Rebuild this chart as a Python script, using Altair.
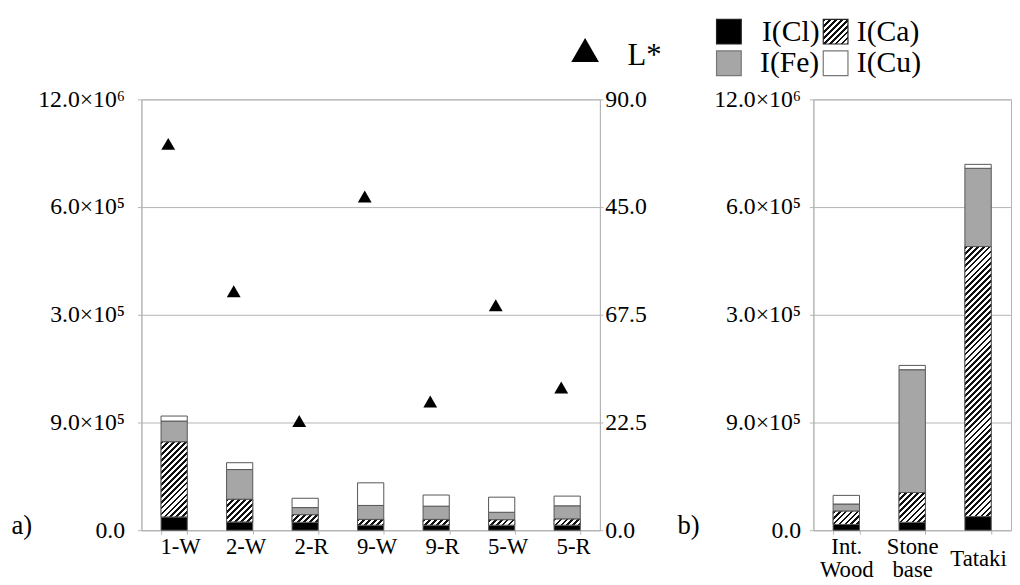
import altair as alt
import pandas as pd

# ---------------- data ----------------
elements = ["Cl", "Ca", "Fe", "Cu"]
legend_labels = ["I(Cl)", "I(Ca)", "I(Fe)", "I(Cu)"]

samples_a = ["1-W", "2-W", "2-R", "9-W", "9-R", "5-W", "5-R"]
cl_a = [0.37e6, 0.23e6, 0.22e6, 0.14e6, 0.14e6, 0.14e6, 0.14e6]
ca_a = [2.09e6, 0.63e6, 0.21e6, 0.16e6, 0.16e6, 0.15e6, 0.17e6]
fe_a = [0.58e6, 0.83e6, 0.20e6, 0.39e6, 0.37e6, 0.21e6, 0.37e6]
cu_a = [0.14e6, 0.19e6, 0.26e6, 0.63e6, 0.31e6, 0.42e6, 0.27e6]
lstar_a = [80.7, 49.9, 22.8, 69.7, 26.9, 47.0, 29.8]

samples_b = ["Int. Wood", "Stone base", "Tataki"]
cl_b = [0.16e6, 0.22e6, 0.38e6]
ca_b = [0.37e6, 0.83e6, 7.52e6]
fe_b = [0.20e6, 3.42e6, 2.18e6]
cu_b = [0.24e6, 0.12e6, 0.11e6]

left_vals = [0, 3e6, 6e6, 9e6, 12e6]
left_labels = ["0.0", "9.0×10⁵", "3.0×10⁵", "6.0×10⁵", "12.0×10⁶"]
right_vals = [0, 22.5, 45, 67.5, 90]
right_labels = ["0.0", "22.5", "67.5", "45.0", "90.0"]

# ---------------- styling ----------------
FONT = "Liberation Serif"
GRID = "#b4b4b4"
STROKE = "#555555"
FILLS = ["#000000", "#ffffff", "#a6a6a6", "#ffffff"]
H = 436
WA, WB = 464, 200
PAD_IN, PAD_OUT = 0.6, 0.3
YMAX = 12e6


def make_df(samples, cl, ca, fe, cu):
    rows = []
    for i, s in enumerate(samples):
        for k, (e, v) in enumerate(zip(elements, [cl[i], ca[i], fe[i], cu[i]])):
            rows.append({"sample": s, "element": e, "order": k, "value": v})
    return pd.DataFrame(rows)


def label_expr(vals, labels):
    expr = "''"
    for v, l in reversed(list(zip(vals, labels))):
        expr = f"datum.value == {v} ? '{l}' : ({expr})"
    return expr


def hatch(w, h, p=6.0, frac=0.47):
    L = w + h
    s = (w * w + h * h) / L
    stops = []
    pos = 0.0
    while pos < L - 1e-9:
        a = pos / L
        b = min((pos + p * frac) / L, 1.0)
        c = min((pos + p) / L, 1.0)
        stops += [
            alt.GradientStop(color="#111111", offset=round(a, 5)),
            alt.GradientStop(color="#111111", offset=round(b, 5)),
            alt.GradientStop(color="#ffffff", offset=round(b, 5)),
            alt.GradientStop(color="#ffffff", offset=round(c, 5)),
        ]
        pos += p
    return alt.LinearGradient(gradient="linear", stops=stops,
                              x1=0, y1=0, x2=round(w / s, 5), y2=round(h / s, 5))


def x_axis(offset):
    return alt.Axis(labelAngle=0, labelFontSize=23, tickBand="extent",
                    tickSize=4, labelLineHeight=23, labelOffset=offset,
                    labelExpr="split(datum.label, ' ')",
                    labelPadding={"condition": {"test": "datum.label == 'Tataki'",
                                                "value": 13.5},
                                  "value": 2})


def y_axis(axis_title, title_x, label_pad):
    return alt.Axis(values=left_vals, labelExpr=label_expr(left_vals, left_labels),
                    title=axis_title, titleAngle=0, titleAlign="left",
                    titleBaseline="middle", titleX=title_x, titleY=431,
                    titleFontSize=27, titleFontWeight="normal",
                    labelPadding=label_pad, tickSize=4, grid=True)


def stacked(df, samples, width, axis_title, title_x, label_pad, lab_off):
    n = len(samples)
    step = width / (n - PAD_IN + 2 * PAD_OUT)
    bw = step * (1 - PAD_IN)
    xscale = alt.Scale(paddingInner=PAD_IN, paddingOuter=PAD_OUT)
    yscale = alt.Scale(domain=[0, YMAX], nice=False)
    xa = x_axis(lab_off)
    ya = y_axis(axis_title, title_x, label_pad)

    def stack(ch):
        return ch.transform_stack(stack="value", as_=["y0", "y1"], groupby=["sample"],
                                  sort=[alt.SortField("order", order="ascending")])

    base = stack(alt.Chart(df)).mark_bar(stroke=STROKE, strokeWidth=1).encode(
        x=alt.X("sample:N", sort=samples, scale=xscale, title=None, axis=xa),
        y=alt.Y("y0:Q", scale=yscale, axis=ya),
        y2="y1:Q",
        fill=alt.Fill("element:N", scale=alt.Scale(domain=elements, range=FILLS), legend=None),
    )
    overlays = []
    ca_df = df[df.element == "Ca"]
    for s, v in zip(ca_df["sample"], ca_df["value"]):
        hpx = v * H / YMAX
        ov = stack(alt.Chart(df)).transform_filter(
            f"datum.element == 'Ca' && datum.sample == '{s}'"
        ).mark_bar(fill=hatch(bw, hpx), stroke=STROKE, strokeWidth=1).encode(
            x=alt.X("sample:N", sort=samples, scale=xscale, title=None, axis=xa),
            y=alt.Y("y0:Q", scale=yscale, axis=ya),
            y2="y1:Q",
        )
        overlays.append(ov)
    return base, overlays, xa


df_a = make_df(samples_a, cl_a, ca_a, fe_a, cu_a)
df_b = make_df(samples_b, cl_b, ca_b, fe_b, cu_b)
df_l = pd.DataFrame({"sample": samples_a, "lstar": lstar_a})

base_a, ov_a, xa_a = stacked(df_a, samples_a, WA, "a)", -132, 13, 6)
bars_a = alt.layer(base_a, *ov_a)

points = alt.Chart(df_l).mark_point(shape="triangle-up", filled=True, size=196,
                                    color="black", opacity=1, xOffset=-6).encode(
    x=alt.X("sample:N", sort=samples_a, title=None,
            scale=alt.Scale(paddingInner=PAD_IN, paddingOuter=PAD_OUT), axis=xa_a),
    y=alt.Y("lstar:Q", scale=alt.Scale(domain=[0, 90], nice=False),
            axis=alt.Axis(orient="right", values=right_vals,
                          labelExpr=label_expr(right_vals, right_labels),
                          title=None, grid=False, tickSize=3, labelPadding=2)),
)

one = pd.DataFrame({"label": ["L*"]})
leg_tri = alt.Chart(one).mark_point(shape="triangle-up", filled=True, size=784,
                                    color="black", opacity=1).encode(
    x=alt.value(449), y=alt.value(-50))
leg_lstar = alt.Chart(one).mark_text(font=FONT, fontSize=31, align="left",
                                     baseline="middle", color="black").encode(
    x=alt.value(492), y=alt.value(-44), text="label:N")

panel_a = alt.layer(bars_a, points, leg_tri, leg_lstar).resolve_scale(
    y="independent").properties(width=WA, height=H)

base_b, ov_b, _ = stacked(df_b, samples_b, WB, "b)", -138, 9, 0)

# manual legend for the four intensities (above panel b)
leg_pos = [(-98, -81), (10, -81), (-98, -49), (10, -49)]
leg_text_x = [-52, 44, -54, 44]
leg_text_y = [-68.5, -68.5, -36.5, -36.5]
leg_strokes = ["#222222", "#222222", "#777777", "#777777"]
legend_layers = []
for i, lab in enumerate(legend_labels):
    dfi = pd.DataFrame({"label": [lab]})
    x0, y0 = leg_pos[i]
    fill = hatch(25, 25) if elements[i] == "Ca" else FILLS[i]
    legend_layers.append(
        alt.Chart(dfi).mark_rect(fill=fill, stroke=leg_strokes[i], strokeWidth=1.2).encode(
            x=alt.value(x0), x2=alt.value(x0 + 25), y=alt.value(y0), y2=alt.value(y0 + 25)))
    legend_layers.append(
        alt.Chart(dfi).mark_text(font=FONT, fontSize=30, align="left", baseline="middle",
                                 color="black").encode(
            x=alt.value(leg_text_x[i]), y=alt.value(leg_text_y[i]), text="label:N"))

panel_b = alt.layer(base_b, *ov_b, *legend_layers).properties(width=WB, height=H)

chart = alt.hconcat(panel_a, panel_b, spacing=216, bounds="flush").properties(
    padding={"left": 2, "top": 5, "right": 0, "bottom": 0}
).configure_view(stroke=GRID, strokeWidth=1).configure_axis(
    labelFont=FONT, labelFontSize=24, labelColor="black",
    titleFont=FONT, titleColor="black",
    gridColor=GRID, domainColor=GRID, tickColor=GRID, gridWidth=1, domainWidth=1,
)

chart.save("out.html", embed_options={"renderer": "svg", "actions": False})
